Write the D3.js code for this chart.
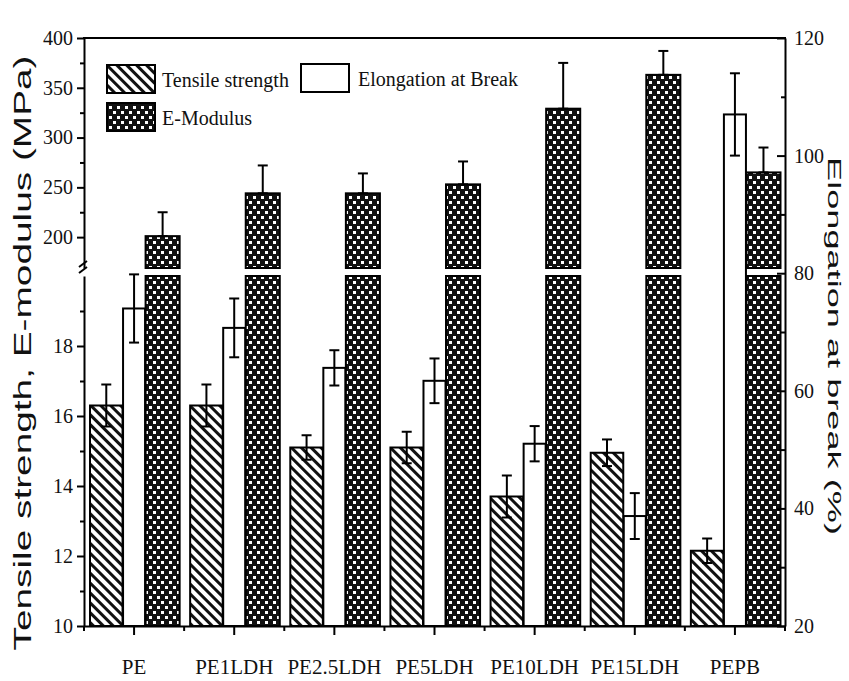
<!DOCTYPE html>
<html>
<head>
<meta charset="utf-8">
<script src="https://cdn.jsdelivr.net/npm/d3@7"></script>
<style>
  html, body { margin: 0; padding: 0; background: #fff; }
  svg { display: block; }
</style>
</head>
<body>
<svg id="chart" width="849" height="681"></svg>
<script>
// ---------------- DATA ----------------
const categories = ["PE", "PE1LDH", "PE2.5LDH", "PE5LDH", "PE10LDH", "PE15LDH", "PEPB"];
const tensile = [16.3, 16.3, 15.1, 15.1, 13.7, 14.95, 12.15];
const tensileErr = [0.6, 0.6, 0.35, 0.45, 0.6, 0.38, 0.35];
const elongation = [74, 70.7, 63.9, 61.7, 51, 38.7, 107];
const elongationErr = [5.8, 5, 3, 3.8, 3, 3.9, 7];
const modulus = [201, 244, 244, 253, 329, 363, 265];
const modulusErr = [24, 28, 20, 23, 46, 24, 25];
const leftLowTicks = [10, 12, 14, 16, 18];
const leftLowMinor = [11, 13, 15, 17, 19];
const leftHighTicks = [200, 250, 300, 350, 400];
const leftHighMinor = [225, 275, 325, 375];
const rightTicks = [20, 40, 60, 80, 100, 120];
const rightMinor = [30, 50, 70, 90, 110];
const legendLabels = ["Tensile strength", "Elongation at Break", "E-Modulus"];
const leftTitle = "Tensile strength, E-modulus (MPa)";
const rightTitle = "Elongation at break (%)";

// ---------------- LAYOUT ----------------
const X0 = 84, X1 = 785, YTOP = 38, YBOT = 626;
const svg = d3.select("#chart");

const x = d3.scaleBand().domain(categories).range([X0, X1]).paddingInner(0).paddingOuter(0);
const yLow = d3.scaleLinear().domain([10, 20]).range([YBOT, 276]);
const yHigh = d3.scaleLinear().domain([169, 400]).range([268, YTOP]);
const yRight = d3.scaleLinear().domain([20, 120]).range([YBOT, YTOP]);

// sub positions inside each band (fractions of band width)
const sub = {
  t: [0.06, 0.385],
  e: [0.39, 0.61],
  m: [0.615, 0.955]
};
const bw = x.bandwidth();
const bx = (c, k) => x(c) + sub[k][0] * bw;
const bwid = k => (sub[k][1] - sub[k][0]) * bw;

// ---------------- PATTERNS ----------------
const defs = svg.append("defs");
const hatch = defs.append("pattern")
  .attr("id", "hatch").attr("patternUnits", "userSpaceOnUse")
  .attr("width", 7).attr("height", 7)
  .attr("patternTransform", "rotate(-45)");
hatch.append("rect").attr("width", 7).attr("height", 7).attr("fill", "#fff");
hatch.append("rect").attr("x", 0).attr("width", 3).attr("height", 7).attr("fill", "#111");

const dots = defs.append("pattern")
  .attr("id", "dots").attr("patternUnits", "userSpaceOnUse")
  .attr("width", 8).attr("height", 10);
dots.append("rect").attr("width", 8).attr("height", 10).attr("fill", "#111");
dots.append("rect").attr("x", 1).attr("y", 1).attr("width", 3).attr("height", 3).attr("fill", "#fff");
dots.append("rect").attr("x", 5).attr("y", 6).attr("width", 3).attr("height", 3).attr("fill", "#fff");

const g = svg.append("g");

// ---------------- BARS ----------------
const idx = d3.range(categories.length);

// Tensile strength
g.selectAll(".bt").data(idx).join("rect")
  .attr("x", i => bx(categories[i], "t"))
  .attr("width", bwid("t"))
  .attr("y", i => yLow(tensile[i]))
  .attr("height", i => yLow(10) - yLow(tensile[i]))
  .attr("fill", "url(#hatch)").attr("stroke", "#000").attr("stroke-width", 2);

// Elongation (right axis)
g.selectAll(".be").data(idx).join("rect")
  .attr("x", i => bx(categories[i], "e"))
  .attr("width", bwid("e"))
  .attr("y", i => yRight(elongation[i]))
  .attr("height", i => yRight(20) - yRight(elongation[i]))
  .attr("fill", "#fff").attr("stroke", "#000").attr("stroke-width", 2);

// E-modulus: lower (full) and upper segments
g.selectAll(".bml").data(idx).join("rect")
  .attr("x", i => bx(categories[i], "m"))
  .attr("width", bwid("m"))
  .attr("y", yLow(20))
  .attr("height", yLow(10) - yLow(20))
  .attr("fill", "url(#dots)").attr("stroke", "#000").attr("stroke-width", 2);
g.selectAll(".bmu").data(idx).join("rect")
  .attr("x", i => bx(categories[i], "m"))
  .attr("width", bwid("m"))
  .attr("y", i => yHigh(modulus[i]))
  .attr("height", i => yHigh(169) - yHigh(modulus[i]))
  .attr("fill", "url(#dots)").attr("stroke", "#000").attr("stroke-width", 2);

// ---------------- ERROR BARS ----------------
function errBar(cx, yTop, yBot, cap) {
  const e = g.append("g").attr("stroke", "#000").attr("stroke-width", 2).attr("fill", "none");
  e.append("line").attr("x1", cx).attr("x2", cx).attr("y1", yTop).attr("y2", yBot);
  e.append("line").attr("x1", cx - cap).attr("x2", cx + cap).attr("y1", yTop).attr("y2", yTop);
  e.append("line").attr("x1", cx - cap).attr("x2", cx + cap).attr("y1", yBot).attr("y2", yBot);
}
idx.forEach(i => {
  const c = categories[i];
  errBar(bx(c, "t") + bwid("t") / 2, yLow(tensile[i] + tensileErr[i]), yLow(tensile[i] - tensileErr[i]), 5);
  errBar(bx(c, "e") + bwid("e") / 2, yRight(elongation[i] + elongationErr[i]), yRight(elongation[i] - elongationErr[i]), 5);
  errBar(bx(c, "m") + bwid("m") / 2, yHigh(modulus[i] + modulusErr[i]), yHigh(modulus[i]), 5);
});

// ---------------- AXES ----------------
const tickFont = "'Liberation Serif', 'Times New Roman', serif";
function styleAxis(sel, size) {
  sel.attr("font-family", tickFont).attr("font-size", size || 20);
  sel.selectAll("path").attr("stroke", "#000").attr("stroke-width", 2);
  sel.selectAll("line").attr("stroke", "#000").attr("stroke-width", 2);
  sel.selectAll("text").attr("fill", "#111");
}

// Left lower
const aLL = g.append("g").attr("transform", `translate(${X0},0)`)
  .call(d3.axisLeft(yLow).tickValues(leftLowTicks).tickFormat(d3.format("d")).tickSizeInner(7).tickSizeOuter(0).tickPadding(4));
styleAxis(aLL);
const aLLm = g.append("g").attr("transform", `translate(${X0},0)`)
  .call(d3.axisLeft(yLow).tickValues(leftLowMinor).tickFormat("").tickSize(4));
styleAxis(aLLm); aLLm.select("path").remove();

// Left upper
const aLH = g.append("g").attr("transform", `translate(${X0},0)`)
  .call(d3.axisLeft(yHigh).tickValues(leftHighTicks).tickFormat(d3.format("d")).tickSizeInner(7).tickSizeOuter(0).tickPadding(4));
styleAxis(aLH);
const aLHm = g.append("g").attr("transform", `translate(${X0},0)`)
  .call(d3.axisLeft(yHigh).tickValues(leftHighMinor).tickFormat("").tickSize(4));
styleAxis(aLHm); aLHm.select("path").remove();

// break symbol on left axis
const brk = g.append("g").attr("stroke", "#000").attr("stroke-width", 2).attr("fill", "none");
brk.append("line").attr("x1", X0 - 5).attr("y1", 267).attr("x2", X0 + 3).attr("y2", 261);
brk.append("line").attr("x1", X0 - 5).attr("y1", 273).attr("x2", X0 + 3).attr("y2", 267);

// Right axis (inward ticks)
const aR = g.append("g").attr("transform", `translate(${X1},0)`)
  .call(d3.axisRight(yRight).tickValues(rightTicks).tickFormat(d3.format("d")).tickSizeInner(-8).tickSizeOuter(0).tickPadding(9));
styleAxis(aR);
const aRm = g.append("g").attr("transform", `translate(${X1},0)`)
  .call(d3.axisRight(yRight).tickValues(rightMinor).tickFormat("").tickSize(-4));
styleAxis(aRm); aRm.select("path").remove();

// Bottom axis
const aB = g.append("g").attr("transform", `translate(0,${YBOT})`)
  .call(d3.axisBottom(x).tickSizeInner(9).tickSizeOuter(0).tickPadding(24));
styleAxis(aB, 21);
const edges = categories.map(c => x(c)).concat([X1]);
aB.selectAll(".minor").data(edges).join("line")
  .attr("x1", d => d).attr("x2", d => d).attr("y1", 0).attr("y2", 5)
  .attr("stroke", "#000").attr("stroke-width", 2);

// Top border
g.append("line").attr("x1", X0 - 1).attr("x2", X1 + 1).attr("y1", YTOP).attr("y2", YTOP)
  .attr("stroke", "#000").attr("stroke-width", 2);

// ---------------- AXIS TITLES ----------------
svg.append("text")
  .attr("transform", "translate(31,353) rotate(-90)")
  .attr("text-anchor", "middle")
  .attr("font-family", "'Liberation Sans', Arial, sans-serif")
  .attr("font-size", 23)
  .attr("textLength", 595).attr("lengthAdjust", "spacingAndGlyphs")
  .attr("fill", "#111")
  .text(leftTitle);

svg.append("text")
  .attr("transform", "translate(828,346) rotate(90)")
  .attr("text-anchor", "middle")
  .attr("font-family", "'Liberation Sans', Arial, sans-serif")
  .attr("font-size", 19)
  .attr("textLength", 378).attr("lengthAdjust", "spacingAndGlyphs")
  .attr("fill", "#111")
  .text(rightTitle);

// ---------------- LEGEND ----------------
const legendItems = [
  { label: legendLabels[0], fill: "url(#hatch)", x: 107, y: 65, tx: 162 },
  { label: legendLabels[1], fill: "#fff", x: 301, y: 64, tx: 358 },
  { label: legendLabels[2], fill: "url(#dots)", x: 107, y: 103, tx: 162 }
];
const lg = svg.append("g");
legendItems.forEach(it => {
  lg.append("rect").attr("x", it.x).attr("y", it.y).attr("width", 48).attr("height", 28)
    .attr("fill", it.fill).attr("stroke", "#000").attr("stroke-width", 2);
  lg.append("text").attr("x", it.tx).attr("y", it.y + 22)
    .attr("font-family", tickFont).attr("font-size", 20).attr("fill", "#111")
    .text(it.label);
});
</script>
</body>
</html>
